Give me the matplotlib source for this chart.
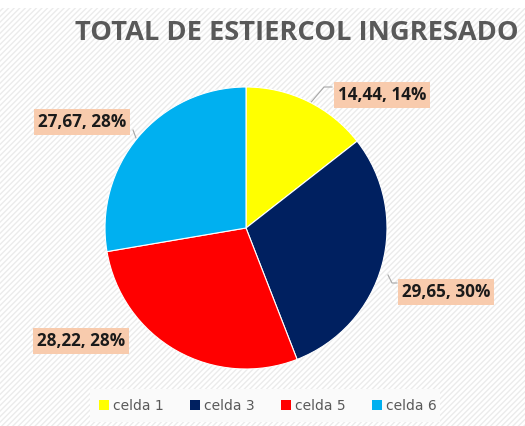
import matplotlib
matplotlib.use("Agg")
import matplotlib.pyplot as plt
from matplotlib.patches import Rectangle
import numpy as np

categories = ["celda 1", "celda 3", "celda 5", "celda 6"]
values = [14.44, 29.65, 28.22, 27.67]
percents = ["14%", "30%", "28%", "28%"]
colors = ["#FFFF00", "#002060", "#FF0000", "#00B0F0"]

W, H = 525, 426
fig = plt.figure(figsize=(W/100, H/100), dpi=100)
fig.patch.set_facecolor("white")

# background hatched panel
bg = fig.add_axes([0, 0, 1, 1])
bg.set_xlim(0, W); bg.set_ylim(H, 0); bg.axis("off")
bg.add_patch(Rectangle((0, 8), W, H - 8, facecolor="white", edgecolor="#EBEBEB",
                       hatch="//////", linewidth=0))
# legend backdrop
bg.add_patch(Rectangle((90, 389), 350, 33, facecolor="#FAFAFA", edgecolor="none"))

cx, cy, r = 246, 228, 141
ax = fig.add_axes([(cx - r)/W, 1 - (cy + r)/H, 2*r/W, 2*r/H])
wedges, _ = ax.pie(values, colors=colors, startangle=90, counterclock=False,
                   wedgeprops=dict(edgecolor="white", linewidth=0.8))
ax.set_aspect("equal")
ax.set_xlim(-1, 1); ax.set_ylim(-1, 1)

fig.text(297/W, 1 - 33/H, "TOTAL DE ESTIERCOL INGRESADO", ha="center", va="center",
         fontsize=19.6, fontweight="bold", color="#595959", family="Open Sans")

# label positions (pixels) and leader line points
label_pos = [(382, 95), (446, 292), (81, 341), (82, 122)]
leaders = [[(307, 107), (324, 87), (332, 87)],
           [(388, 275), (392, 283), (397, 283)],
           None,
           [(133, 130), (136, 138)]]
for i, (v, p) in enumerate(zip(values, percents)):
    txt = f"{v:.2f}".replace(".", ",") + ", " + p
    x, y = label_pos[i]
    fig.text(x/W, 1 - y/H, txt, ha="center", va="center", fontsize=12.3,
             fontweight="bold", color="#1A1A1A", family="Open Sans",
             bbox=dict(boxstyle="square,pad=0.22", facecolor="#F8CBAD", edgecolor="none"))
    if leaders[i]:
        xs = [q[0] for q in leaders[i]]; ys = [q[1] for q in leaders[i]]
        bg.plot(xs, ys, color="#A6A6A6", linewidth=0.8)

handles = [Rectangle((0, 0), 1, 1, facecolor=c) for c in colors]
leg = fig.legend(handles, categories, loc="center", bbox_to_anchor=(268/W, 1 - 406/H),
                 ncol=4, frameon=False, fontsize=10, handlelength=0.7, handleheight=0.7,
                 columnspacing=1.9, handletextpad=0.3)
for t in leg.get_texts():
    t.set_color("#595959")

fig.savefig("out.png", dpi=100)
